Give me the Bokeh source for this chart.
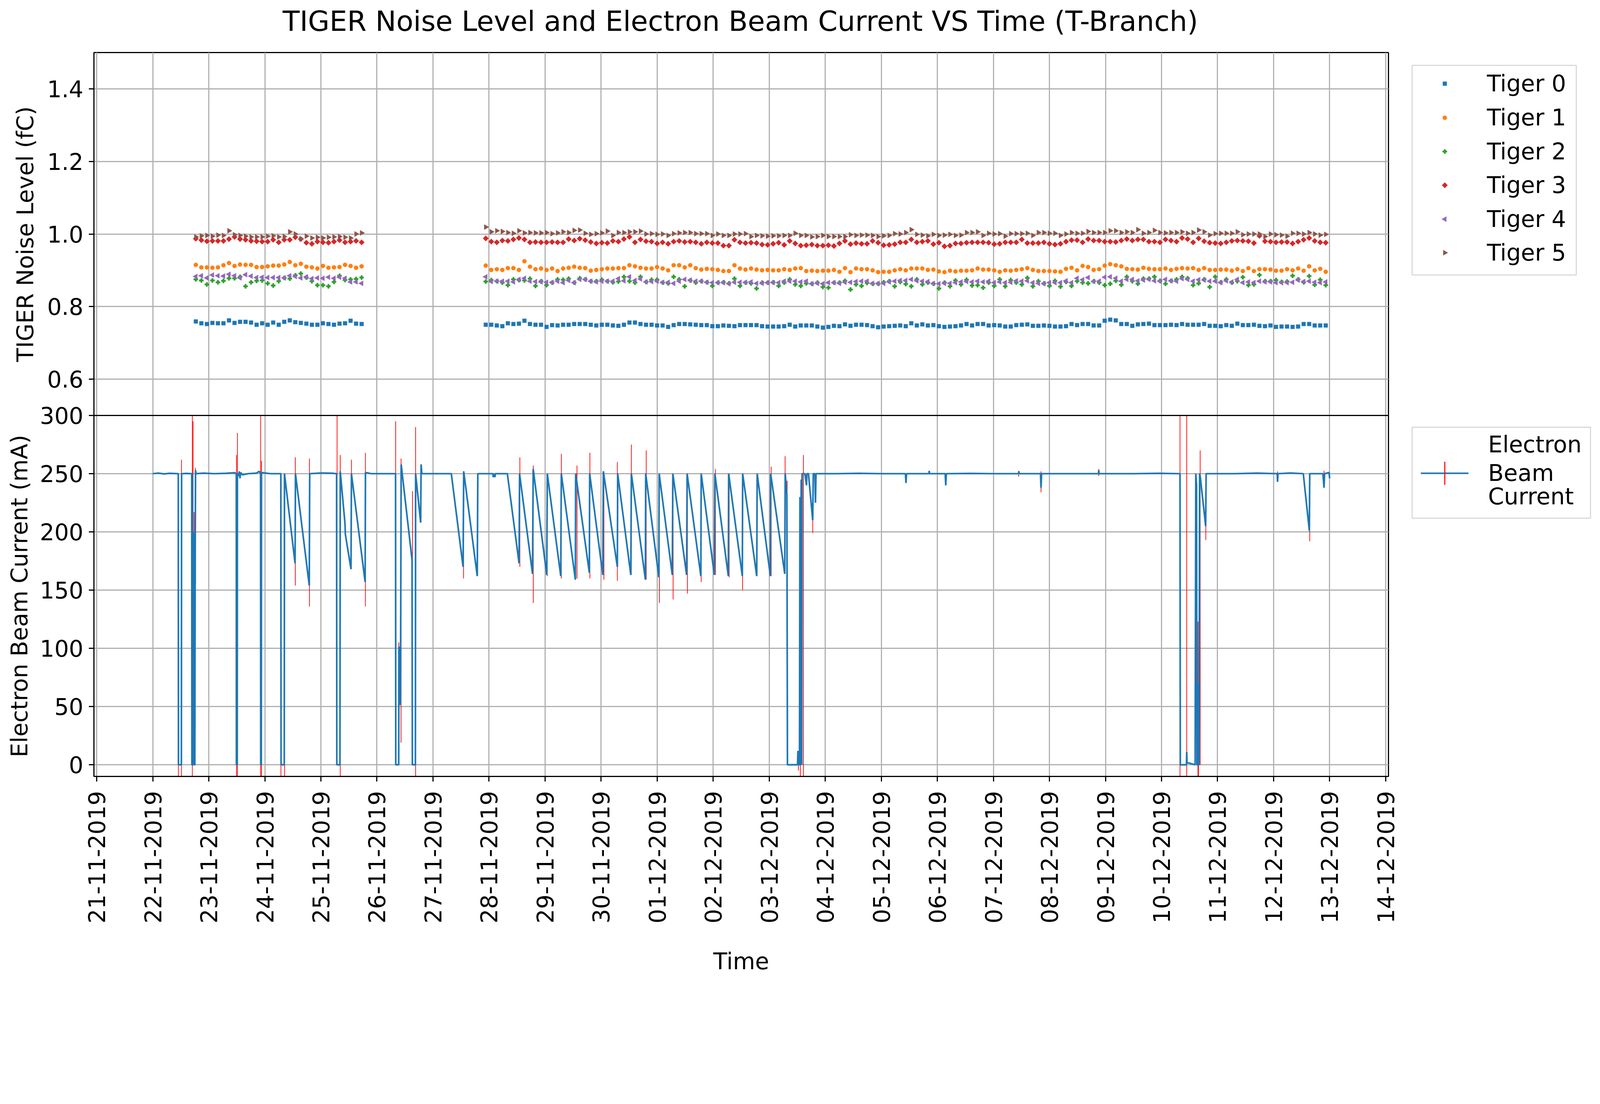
import numpy as np
import pandas as pd
from bokeh.plotting import figure
from bokeh.layouts import column, row
from bokeh.models import FixedTicker, DatetimeTickFormatter, Range1d, Span
from bokeh.core.properties import value
from bokeh.embed import file_html
from bokeh.resources import INLINE

# ---------------- data ----------------
TITLE = "TIGER Noise Level and Electron Beam Current VS Time (T-Branch)"
Y_LABEL_TOP = "TIGER Noise Level (fC)"
Y_LABEL_BOTTOM = "Electron Beam Current (mA)"
X_LABEL = "Time"
BASE_DAY = "2019-11-22 00:00"          # day offsets below are counted from this moment
X_TICK_LABELS = ["21-11-2019", "22-11-2019", "23-11-2019", "24-11-2019", "25-11-2019",
                 "26-11-2019", "27-11-2019", "28-11-2019", "29-11-2019", "30-11-2019",
                 "01-12-2019", "02-12-2019", "03-12-2019", "04-12-2019", "05-12-2019",
                 "06-12-2019", "07-12-2019", "08-12-2019", "09-12-2019", "10-12-2019",
                 "11-12-2019", "12-12-2019", "13-12-2019", "14-12-2019"]
NOISE_Y_TICKS = [0.6, 0.8, 1.0, 1.2, 1.4]
NOISE_Y_TICK_LABELS = ["0.6", "0.8", "1.0", "1.2", "1.4"]
BEAM_Y_TICKS = [0, 50, 100, 150, 200, 250, 300]
BEAM_Y_TICK_LABELS = ["0", "50", "100", "150", "200", "250", "300"]
NOISE_Y_RANGE = (0.5, 1.5)
BEAM_Y_RANGE = (-10, 300)

# noise measurement runs: start time, number of samples, sampling step (minutes)
noise_run_start = ["2019-11-22 18:26", "2019-11-27 22:36"]
noise_run_count = [31, 153]
noise_step_min = 142

tiger_labels = ["Tiger 0", "Tiger 1", "Tiger 2", "Tiger 3", "Tiger 4", "Tiger 5"]
beam_label = ["Electron", "Beam", "Current"]

tiger0 = [0.759, 0.754, 0.752, 0.755, 0.754, 0.754, 0.762, 0.755, 0.758, 0.758,
          0.756, 0.750, 0.754, 0.750, 0.756, 0.750, 0.758, 0.762, 0.757, 0.755,
          0.753, 0.750, 0.750, 0.754, 0.752, 0.750, 0.753, 0.754, 0.761, 0.753, 0.752,
          0.750, 0.750, 0.748, 0.746, 0.754, 0.752, 0.753, 0.761, 0.752, 0.750,
          0.750, 0.744, 0.749, 0.748, 0.750, 0.750, 0.752, 0.752, 0.752, 0.750,
          0.748, 0.750, 0.750, 0.748, 0.747, 0.750, 0.756, 0.756, 0.752, 0.750,
          0.750, 0.748, 0.748, 0.744, 0.749, 0.752, 0.752, 0.751, 0.750, 0.749,
          0.749, 0.746, 0.746, 0.748, 0.747, 0.746, 0.749, 0.749, 0.749, 0.749, 0.746,
          0.745, 0.745, 0.745, 0.746, 0.750, 0.745, 0.748, 0.748, 0.748, 0.745,
          0.742, 0.744, 0.747, 0.746, 0.751, 0.747, 0.750, 0.750, 0.749, 0.746,
          0.743, 0.745, 0.746, 0.747, 0.748, 0.746, 0.754, 0.748, 0.751, 0.748,
          0.749, 0.746, 0.744, 0.745, 0.746, 0.748, 0.752, 0.748, 0.752, 0.752,
          0.748, 0.749, 0.748, 0.745, 0.745, 0.749, 0.750, 0.751, 0.747, 0.747,
          0.748, 0.747, 0.745, 0.745, 0.746, 0.752, 0.749, 0.752, 0.752, 0.748,
          0.748, 0.761, 0.764, 0.762, 0.752, 0.752, 0.747, 0.751, 0.752, 0.753,
          0.749, 0.749, 0.749, 0.750, 0.749, 0.752, 0.750, 0.750, 0.750, 0.752,
          0.747, 0.747, 0.746, 0.749, 0.747, 0.753, 0.749, 0.749, 0.750, 0.747,
          0.746, 0.748, 0.744, 0.745, 0.745, 0.744, 0.745, 0.752, 0.752, 0.748,
          0.748, 0.748]

tiger1 = [0.915, 0.908, 0.908, 0.907, 0.908, 0.914, 0.920, 0.912, 0.916, 0.915,
          0.915, 0.909, 0.909, 0.911, 0.913, 0.913, 0.916, 0.923, 0.914, 0.918,
          0.910, 0.908, 0.905, 0.912, 0.907, 0.908, 0.909, 0.915, 0.912, 0.907, 0.911,
          0.913, 0.901, 0.903, 0.901, 0.906, 0.906, 0.901, 0.925, 0.910, 0.903,
          0.905, 0.901, 0.905, 0.898, 0.905, 0.907, 0.910, 0.907, 0.906, 0.899,
          0.901, 0.903, 0.905, 0.905, 0.906, 0.906, 0.914, 0.911, 0.907, 0.905,
          0.905, 0.909, 0.905, 0.900, 0.914, 0.914, 0.908, 0.914, 0.906, 0.902,
          0.904, 0.903, 0.901, 0.898, 0.898, 0.914, 0.905, 0.902, 0.905, 0.902, 0.900,
          0.901, 0.900, 0.900, 0.903, 0.901, 0.905, 0.906, 0.898, 0.899, 0.898,
          0.899, 0.899, 0.901, 0.896, 0.906, 0.895, 0.905, 0.903, 0.903, 0.900,
          0.895, 0.896, 0.896, 0.900, 0.903, 0.900, 0.905, 0.905, 0.905, 0.901,
          0.902, 0.897, 0.895, 0.899, 0.897, 0.899, 0.899, 0.900, 0.905, 0.902,
          0.902, 0.900, 0.896, 0.900, 0.899, 0.901, 0.903, 0.906, 0.901, 0.898,
          0.898, 0.898, 0.897, 0.896, 0.904, 0.907, 0.900, 0.912, 0.909, 0.901,
          0.903, 0.913, 0.917, 0.914, 0.911, 0.904, 0.903, 0.902, 0.907, 0.904,
          0.903, 0.903, 0.905, 0.901, 0.904, 0.906, 0.905, 0.906, 0.901, 0.906,
          0.901, 0.901, 0.902, 0.902, 0.899, 0.903, 0.898, 0.906, 0.898, 0.903,
          0.903, 0.902, 0.899, 0.899, 0.903, 0.900, 0.905, 0.899, 0.911, 0.900,
          0.904, 0.896]

tiger2 = [0.875, 0.872, 0.861, 0.872, 0.867, 0.871, 0.878, 0.878, 0.882, 0.856,
          0.867, 0.871, 0.872, 0.864, 0.858, 0.870, 0.879, 0.877, 0.886, 0.891,
          0.880, 0.870, 0.859, 0.859, 0.856, 0.868, 0.885, 0.873, 0.875, 0.876, 0.880,
          0.869, 0.873, 0.870, 0.866, 0.859, 0.875, 0.873, 0.872, 0.877, 0.857,
          0.870, 0.859, 0.866, 0.875, 0.874, 0.877, 0.866, 0.878, 0.875, 0.870,
          0.870, 0.874, 0.870, 0.867, 0.869, 0.882, 0.870, 0.866, 0.882, 0.868,
          0.874, 0.874, 0.866, 0.864, 0.882, 0.875, 0.856, 0.872, 0.866, 0.870,
          0.867, 0.857, 0.866, 0.867, 0.864, 0.877, 0.857, 0.866, 0.864, 0.850, 0.866,
          0.866, 0.867, 0.857, 0.866, 0.875, 0.861, 0.857, 0.864, 0.863, 0.866,
          0.854, 0.852, 0.866, 0.866, 0.871, 0.847, 0.861, 0.857, 0.865, 0.863,
          0.863, 0.867, 0.870, 0.856, 0.868, 0.862, 0.856, 0.875, 0.861, 0.866,
          0.863, 0.850, 0.866, 0.856, 0.872, 0.861, 0.874, 0.858, 0.859, 0.852,
          0.866, 0.857, 0.875, 0.856, 0.873, 0.866, 0.861, 0.879, 0.856, 0.870,
          0.864, 0.857, 0.871, 0.855, 0.868, 0.857, 0.870, 0.866, 0.864, 0.870,
          0.866, 0.859, 0.863, 0.871, 0.860, 0.882, 0.870, 0.863, 0.877, 0.877,
          0.882, 0.871, 0.863, 0.871, 0.875, 0.882, 0.878, 0.859, 0.864, 0.875,
          0.854, 0.882, 0.867, 0.875, 0.866, 0.870, 0.881, 0.859, 0.861, 0.887,
          0.870, 0.870, 0.873, 0.868, 0.869, 0.885, 0.875, 0.867, 0.884, 0.860,
          0.874, 0.859]

tiger3 = [0.987, 0.983, 0.980, 0.981, 0.981, 0.981, 0.986, 0.992, 0.986, 0.984,
          0.981, 0.980, 0.979, 0.979, 0.984, 0.977, 0.984, 0.984, 0.991, 0.986,
          0.976, 0.973, 0.979, 0.977, 0.976, 0.979, 0.983, 0.977, 0.979, 0.981, 0.977,
          0.988, 0.979, 0.977, 0.982, 0.981, 0.985, 0.989, 0.985, 0.977, 0.978,
          0.977, 0.977, 0.978, 0.977, 0.977, 0.986, 0.982, 0.987, 0.983, 0.978,
          0.974, 0.976, 0.975, 0.981, 0.979, 0.986, 0.992, 0.977, 0.985, 0.980,
          0.979, 0.974, 0.977, 0.973, 0.979, 0.981, 0.978, 0.979, 0.977, 0.973,
          0.977, 0.975, 0.975, 0.968, 0.968, 0.984, 0.977, 0.975, 0.976, 0.975, 0.971,
          0.970, 0.973, 0.976, 0.970, 0.981, 0.974, 0.968, 0.969, 0.971, 0.968,
          0.968, 0.969, 0.967, 0.974, 0.981, 0.972, 0.975, 0.973, 0.973, 0.981,
          0.976, 0.969, 0.970, 0.972, 0.977, 0.977, 0.985, 0.977, 0.979, 0.981,
          0.972, 0.976, 0.966, 0.968, 0.974, 0.974, 0.976, 0.977, 0.977, 0.977,
          0.976, 0.972, 0.973, 0.977, 0.977, 0.977, 0.985, 0.975, 0.975, 0.975,
          0.977, 0.973, 0.971, 0.973, 0.979, 0.983, 0.983, 0.977, 0.986, 0.982,
          0.982, 0.979, 0.979, 0.978, 0.982, 0.986, 0.982, 0.985, 0.985, 0.979,
          0.979, 0.977, 0.985, 0.982, 0.979, 0.989, 0.986, 0.977, 0.988, 0.980,
          0.976, 0.975, 0.974, 0.977, 0.981, 0.982, 0.981, 0.980, 0.975, 0.995,
          0.980, 0.979, 0.977, 0.978, 0.978, 0.974, 0.979, 0.984, 0.989, 0.981,
          0.977, 0.976]

tiger4 = [0.883, 0.885, 0.879, 0.887, 0.885, 0.884, 0.889, 0.885, 0.879, 0.888,
          0.884, 0.880, 0.881, 0.880, 0.880, 0.880, 0.879, 0.885, 0.883, 0.879,
          0.882, 0.877, 0.879, 0.878, 0.881, 0.878, 0.881, 0.878, 0.868, 0.868, 0.864,
          0.882, 0.869, 0.870, 0.870, 0.870, 0.868, 0.875, 0.878, 0.870, 0.869,
          0.868, 0.867, 0.867, 0.870, 0.866, 0.872, 0.866, 0.875, 0.875, 0.870,
          0.868, 0.870, 0.870, 0.870, 0.877, 0.871, 0.882, 0.872, 0.876, 0.868,
          0.869, 0.870, 0.867, 0.867, 0.864, 0.870, 0.875, 0.873, 0.870, 0.870,
          0.867, 0.866, 0.866, 0.866, 0.863, 0.867, 0.867, 0.867, 0.868, 0.864, 0.864,
          0.866, 0.866, 0.866, 0.870, 0.870, 0.870, 0.868, 0.870, 0.863, 0.864,
          0.863, 0.866, 0.866, 0.864, 0.867, 0.867, 0.869, 0.870, 0.870, 0.864,
          0.864, 0.864, 0.868, 0.870, 0.872, 0.872, 0.875, 0.871, 0.870, 0.869,
          0.864, 0.863, 0.864, 0.864, 0.866, 0.868, 0.869, 0.868, 0.870, 0.868,
          0.870, 0.866, 0.868, 0.866, 0.867, 0.871, 0.870, 0.871, 0.866, 0.864,
          0.863, 0.866, 0.866, 0.866, 0.871, 0.866, 0.878, 0.874, 0.880, 0.869,
          0.870, 0.881, 0.882, 0.878, 0.870, 0.875, 0.875, 0.871, 0.873, 0.875,
          0.871, 0.870, 0.875, 0.871, 0.870, 0.877, 0.875, 0.870, 0.874, 0.873,
          0.870, 0.870, 0.866, 0.871, 0.868, 0.875, 0.866, 0.868, 0.866, 0.870,
          0.868, 0.868, 0.866, 0.866, 0.866, 0.867, 0.873, 0.869, 0.870, 0.867,
          0.866, 0.868]

tiger5 = [0.992, 0.995, 0.996, 0.994, 0.997, 0.996, 1.009, 0.998, 0.996, 0.994,
          0.992, 0.992, 0.992, 0.994, 0.995, 0.992, 0.993, 1.006, 1.000, 0.987,
          0.994, 0.989, 0.991, 0.989, 0.991, 0.992, 0.993, 0.991, 0.989, 1.000, 1.003,
          1.019, 1.006, 1.009, 1.007, 1.004, 1.002, 1.009, 1.003, 1.004, 1.003,
          1.003, 1.004, 1.001, 1.003, 1.006, 1.004, 1.010, 1.011, 1.002, 0.999,
          1.001, 1.003, 1.008, 0.996, 1.004, 1.004, 1.006, 1.006, 1.008, 1.000,
          1.001, 0.999, 1.000, 0.996, 1.001, 1.003, 1.004, 1.004, 1.001, 1.001,
          1.001, 0.996, 1.000, 0.996, 0.996, 1.000, 1.000, 1.001, 0.993, 0.996, 0.995,
          0.994, 0.995, 0.995, 0.996, 0.996, 1.002, 0.996, 0.996, 0.992, 0.993,
          0.996, 0.993, 0.993, 0.993, 0.993, 0.998, 0.996, 0.997, 0.997, 0.996,
          0.993, 0.995, 0.996, 1.001, 1.000, 1.004, 1.012, 0.999, 0.997, 0.995,
          0.999, 0.996, 0.997, 0.999, 0.996, 0.997, 1.004, 1.004, 1.006, 0.996,
          1.002, 1.000, 1.001, 0.994, 1.001, 1.001, 1.001, 1.002, 0.996, 1.004,
          1.004, 1.002, 1.002, 0.996, 1.000, 1.004, 1.002, 1.002, 1.007, 1.004,
          1.004, 1.004, 1.009, 1.009, 1.004, 1.006, 1.004, 1.012, 1.002, 1.004,
          1.010, 1.004, 1.003, 1.004, 1.004, 1.006, 1.002, 1.004, 1.011, 1.006,
          0.997, 1.001, 1.002, 1.002, 1.002, 1.006, 0.998, 1.000, 1.000, 1.000,
          0.993, 1.000, 0.998, 0.997, 0.994, 1.002, 1.002, 1.000, 1.004, 1.000,
          0.997, 0.999]

# electron beam current: vertices (day offset from BASE_DAY, mA)
beam_day = [0.000, 0.100, 0.200, 0.300, 0.455, 0.458, 0.510, 0.514, 0.600, 0.695,
            0.698, 0.704, 0.707, 0.711, 0.722, 0.726, 0.738, 0.742, 0.750, 0.757, 0.763, 0.770,
            0.900, 1.100, 1.300, 1.460, 1.490, 1.492, 1.507, 1.510, 1.530, 1.545, 1.555, 1.570,
            1.600, 1.700, 1.850, 1.900, 1.923, 1.926, 1.936, 1.940, 2.100, 2.285, 2.289, 2.346,
            2.350, 2.539, 2.546, 2.792, 2.800, 3.000, 3.200, 3.280, 3.284, 3.340, 3.345, 3.430,
            3.436, 3.537, 3.545, 3.789, 3.795, 3.900, 4.100, 4.332, 4.336, 4.388, 4.392, 4.402,
            4.408, 4.420, 4.432, 4.626, 4.632, 4.686, 4.690, 4.780, 4.788, 4.800, 5.000, 5.327,
            5.537, 5.548, 5.790, 5.800, 6.070, 6.075, 6.085, 6.105, 6.115, 6.327, 6.536, 6.545,
            6.776, 6.788, 7.030, 7.040, 7.280, 7.290, 7.540, 7.546, 7.790, 7.796, 8.030, 8.040,
            8.290, 8.296, 8.530, 8.540, 8.790, 8.796, 9.030, 9.036, 9.270, 9.280, 9.526, 9.535,
            9.780, 9.786, 10.020, 10.030, 10.270, 10.276, 10.520, 10.526, 10.777, 10.785,
            11.020, 11.026, 11.277, 11.285, 11.315, 11.325, 11.505, 11.512, 11.518, 11.540,
            11.548, 11.554, 11.563, 11.570, 11.575, 11.580, 11.586, 11.610, 11.637, 11.665,
            11.672, 11.700, 11.776, 11.786, 11.815, 11.825, 11.835,
            12.200, 12.600, 13.000, 13.430, 13.440, 13.450, 13.850, 13.855, 13.860, 14.140,
            14.150, 14.160, 14.600, 15.000, 15.450, 15.455, 15.460, 15.840, 15.850, 15.860,
            16.400, 16.875, 16.880, 16.885, 17.500, 17.950, 18.330, 18.335, 18.445, 18.450,
            18.455, 18.600, 18.612, 18.625, 18.632, 18.645, 18.650, 18.658, 18.670, 18.680,
            18.690, 18.788, 18.796, 19.300, 19.700, 20.065, 20.070, 20.078, 20.300, 20.530,
            20.638, 20.645, 20.880, 20.900, 20.910, 20.990, 21.000]
beam_ma = [250, 250.5, 249.8, 250.3, 250, 0, 0, 250, 250.2, 250,
           0, 0, 250, 0, 0, 200, 182, 0, 0, 185, 253, 250,
           250.5, 250, 250.3, 250.8, 250, 0, 0, 250, 248, 252, 246, 251,
           249, 250, 250.5, 252, 250, 0, 0, 251, 250, 250, 0, 0,
           250, 173, 250, 154, 250, 250.6, 250.4, 250, 0, 0, 252, 207,
           198, 168, 250, 157, 251, 250, 250, 250, 0, 0, 101, 101,
           52, 52, 258, 176, 0, 0, 250, 208, 258, 250, 250, 250,
           170, 252, 162, 250, 250, 247, 250, 247, 250, 250, 173, 250,
           164, 254, 163, 250, 162, 250, 159, 250, 165, 250, 163, 252,
           170, 250, 163, 250, 159, 250, 161, 250, 163, 250, 163, 250,
           162, 250, 163, 250, 162, 250, 162, 250, 162, 250,
           162, 250, 164, 250, 232, 0, 0, 12, 0, 0,
           230, 0, 0, 245, 50, 0, 250, 250, 250, 240,
           250, 250, 210, 250, 250, 225, 250,
           250, 250.3, 250, 250, 242, 250, 250, 252.5, 250, 250,
           240, 250, 250.2, 250, 250, 252, 250, 250, 238, 250,
           250, 250, 253, 250, 250, 250.3, 250, 0, 0, 11,
           2, 0, 250, 240, 0, 0, 70, 0, 0, 250,
           248, 205, 250, 250, 250.5, 250, 243, 250, 250.6, 250,
           201, 250, 250, 238, 250, 251, 246]

# beam current error bars: (day offset, lower mA, upper mA); 300 = runs off the top of the chart
err_day = [0.457, 0.512, 0.706, 0.719, 0.736, 0.762, 1.494, 1.510, 1.925, 1.940,
           2.287, 2.352, 2.543, 2.796, 3.288, 3.345, 3.545, 3.794, 4.334, 4.390,
           4.430, 4.634, 4.690, 5.545, 6.550, 6.790, 7.040, 7.290, 7.570, 7.800,
           8.050, 8.290, 8.540, 8.805, 9.040, 9.285, 9.540, 9.785, 10.040, 10.285,
           10.525, 11.035, 11.283, 11.320, 11.520, 11.555, 11.610, 11.776, 15.450, 15.850,
           16.880, 18.330, 18.450, 18.650, 18.660, 18.690, 18.790, 20.070, 20.645, 20.900]
err_lo = [-10, -10, -10, 170, 155, 155, -10, -10, -10, -10,
          -10, -10, 154, 136, 0, -10, 200, 136, 0, 37,
          19, 170, -10, 160, 170, 139, 162, 160, 160, 160,
          159, 158, 163, 159, 139, 142, 147, 157, 163, 161,
          150, 162, 164, 232, -5, -10, -10, 199, 247.5, 234,
          248, -10, -10, -10, -10, 0, 193, 243, 192, 238]
err_hi = [0, 262, 300, 295, 217, 255, 266, 285, 300, 261,
          0, 0, 264, 263, 300, 266, 262, 268, 295, 105,
          263, 235, 290, 252, 264, 257, 250, 267, 257, 268,
          252, 260, 275, 270, 250, 250, 250, 250, 254, 250,
          250, 256, 265, 244, 12, 50, 266, 210, 252.5, 252,
          254, 300, 300, 123, 20, 270, 205, 252, 201, 252.5]

# ---------------- layout (reference picture pixels -> page CSS px) ----------------
K = 4600 / 4096                 # picture pixels per CSS pixel


def css(d):
    return d / K


def body(d):                    # picture position -> page position (CSS px)
    return d / K


FONT = "DejaVu Sans"
FS = f"{css(65.6):.1f}px"
TITLE_FS = f"{css(80.2):.1f}px"
LW = css(3.28)
TICK = int(round(css(14.3)))

FRAME_LEFT = int(round(body(267)))
MAIN_LB = 139
YLAB_W = FRAME_LEFT - MAIN_LB
TITLE_H = int(round(body(151))) - 3
MAIN_TB = 3
MAIN_RB = 40
MAIN_BB = 520
FRAME_W = int(round(body(3989) - FRAME_LEFT))
TOP_H = int(round(body(1194) - (TITLE_H + MAIN_TB)))
BOT_H = int(round(body(2232) - (TITLE_H + MAIN_TB + TOP_H)))
FRAME_H = TOP_H + BOT_H
TOTAL_W = 4096 - 16
LEG_X0 = FRAME_LEFT + FRAME_W + MAIN_RB
LEG_W = TOTAL_W - LEG_X0
P_H = MAIN_TB + FRAME_H + MAIN_BB

tab = ["#1f77b4", "#ff7f0e", "#2ca02c", "#d62728", "#9467bd", "#8c564b"]
# marker, size, angle  (like matplotlib s, o, P, D, <, >)
marker_spec = [("square", css(11.5), 0.0), ("circle", css(12.3), 0.0),
               ("plus", css(12.6), 0.0), ("square", css(11.5), np.pi / 4),
               ("triangle", css(15.5), np.pi / 2), ("triangle", css(15.5), -np.pi / 2)]

# ---------------- helpers ----------------
base = pd.Timestamp(BASE_DAY)
MS_DAY = 86400000.0
EPOCH = pd.Timestamp("1970-01-01")
base_ms = (base - EPOCH) / pd.Timedelta(milliseconds=1)


def day_to_dt(days):
    return base + pd.to_timedelta(np.asarray(days, dtype=float), unit="D")


noise_t = np.concatenate([
    pd.date_range(s, periods=n, freq=f"{noise_step_min}min").values
    for s, n in zip(noise_run_start, noise_run_count)])
beam_t = day_to_dt(beam_day)
err_t = day_to_dt(err_day)

tick_ms = [(pd.to_datetime(s, format="%d-%m-%Y") - EPOCH) / pd.Timedelta(milliseconds=1)
           for s in X_TICK_LABELS]
xr = Range1d(start=base_ms - 1.05 * MS_DAY, end=base_ms + 22.05 * MS_DAY)

# the two stacked charts share one frame: beam current in the lower BOT_H pixels,
# noise level in the upper TOP_H pixels
b_lo, b_hi = BEAM_Y_RANGE
n_lo, n_hi = NOISE_Y_RANGE
beam_per_px = (b_hi - b_lo) / BOT_H
noise_per_px = (n_hi - n_lo) / TOP_H
beam_range = Range1d(b_lo, b_hi + TOP_H * beam_per_px)
noise_range = Range1d(n_lo - BOT_H * noise_per_px, n_hi)


def noise_to_beam(v):
    return b_hi + (v - n_lo) / noise_per_px * beam_per_px


left_ticks = [float(t) for t in BEAM_Y_TICKS] + [float(noise_to_beam(v)) for v in NOISE_Y_TICKS]
left_labels = BEAM_Y_TICK_LABELS + NOISE_Y_TICK_LABELS


def blank_fig(w, h, top=0, bottom=0):
    # plain panel; data units = CSS pixels measured from the panel's top-left corner
    f = figure(width=w, height=h, x_range=Range1d(0, w), y_range=Range1d(h - bottom, top),
               min_border_left=0, min_border_right=0, min_border_top=top,
               min_border_bottom=bottom, x_axis_location=None, y_axis_location=None,
               output_backend="svg", toolbar_location=None)
    f.grid.visible = False
    f.outline_line_color = None
    f.background_fill_color = "white"
    f.border_fill_color = "white"
    return f


# ---------------- main chart ----------------
p = figure(x_axis_type="datetime", x_range=xr, y_range=beam_range,
           frame_width=FRAME_W, frame_height=FRAME_H,
           min_border_left=MAIN_LB, min_border_right=MAIN_RB, min_border_top=MAIN_TB,
           min_border_bottom=MAIN_BB, output_backend="svg", toolbar_location=None)
p.extra_y_ranges = {"noise": noise_range}
p.outline_line_color = "black"
p.outline_line_width = LW
p.background_fill_color = "white"
p.border_fill_color = "white"

p.xaxis.ticker = FixedTicker(ticks=tick_ms)
fmt = "%d-%m-%Y"
p.xaxis.formatter = DatetimeTickFormatter(
    microseconds=fmt, milliseconds=fmt, seconds=fmt, minsec=fmt, minutes=fmt,
    hourmin=fmt, hours=fmt, days=fmt, months=fmt, years=fmt)
p.xaxis.major_label_orientation = np.pi / 2
p.xaxis.axis_label = X_LABEL
p.yaxis.ticker = FixedTicker(ticks=left_ticks)
p.yaxis.major_label_overrides = dict(zip(left_ticks, left_labels))
p.xgrid.ticker = FixedTicker(ticks=tick_ms)
p.ygrid.ticker = FixedTicker(ticks=left_ticks)
for g in p.grid:
    g.grid_line_color = "#b0b0b0"
    g.grid_line_width = LW
for ax in p.axis:
    ax.axis_line_color = "black"
    ax.axis_line_width = LW
    ax.major_tick_line_color = "black"
    ax.major_tick_line_width = LW
    ax.major_tick_out = TICK
    ax.major_tick_in = 0
    ax.minor_tick_line_color = None
    ax.major_label_text_font = FONT
    ax.major_label_text_font_size = FS
    ax.major_label_text_color = "black"
    ax.axis_label_text_font = FONT
    ax.axis_label_text_font_size = FS
    ax.axis_label_text_font_style = "normal"
    ax.axis_label_text_color = "black"
p.yaxis.major_label_standoff = 14
p.xaxis.major_label_standoff = int(round(css(41))) - TICK
p.xaxis.axis_label_standoff = 60

# beam current with its error bars
p.segment(x0=err_t, y0=err_lo, x1=err_t, y1=err_hi, line_color="red", line_width=css(2))
p.line(x=beam_t, y=beam_ma, line_color="#1f77b4", line_width=css(4.7))

# noise levels
series = [tiger0, tiger1, tiger2, tiger3, tiger4, tiger5]
for vals, col, (mk, sz, ang) in zip(series, tab, marker_spec):
    p.scatter(x=noise_t, y=vals, y_range_name="noise", marker=mk, size=sz, angle=ang,
              fill_color=col, line_color=col, line_width=0.4)

# border between the two charts
p.add_layout(Span(location=b_hi, dimension="width", line_color="black", line_width=LW))

# ---------------- title ----------------
tf = blank_fig(TOTAL_W, TITLE_H)
tf.text(x=[body(2128)], y=[body(61)], text=[TITLE], text_font=value(FONT),
        text_font_size=TITLE_FS, text_color="black", text_align="center",
        text_baseline="middle")

# ---------------- y axis titles ----------------
yf = blank_fig(YLAB_W, P_H, top=MAIN_TB, bottom=MAIN_BB)
yf.text(x=[body(72.4), body(55.5)],
        y=[body((151 + 1194) / 2) - TITLE_H, body((1194 + 2232) / 2) - TITLE_H],
        text=[Y_LABEL_TOP, Y_LABEL_BOTTOM], angle=np.pi / 2, text_font=value(FONT),
        text_font_size=FS, text_color="black", text_align="center", text_baseline="middle")

# ---------------- legends ----------------
lf = blank_fig(LEG_W, P_H, top=MAIN_TB, bottom=MAIN_BB)


def lx(d):
    return body(d) - LEG_X0


def ly(d):
    return body(d) - TITLE_H


def legend_box(x0, x1, y0, y1):
    lf.quad(left=[lx(x0)], right=[lx(x1)], top=[ly(y0)], bottom=[ly(y1)],
            fill_color="white", fill_alpha=0.8, line_color="#d6d6d6", line_width=css(3))


legend_box(4057, 4529, 187.5, 790)
row_y = [ly(v) for v in (240, 338, 435, 532, 629.5, 726)]
for yy, col, (mk, sz, ang) in zip(row_y, tab, marker_spec):
    lf.scatter(x=[lx(4151)], y=[yy], marker=mk, size=sz, angle=ang,
               fill_color=col, line_color=col, line_width=0.4)
lf.text(x=[lx(4272)] * 6, y=row_y, text=tiger_labels, text_font=value(FONT),
        text_font_size=FS, text_color="black", text_baseline="middle", text_align="left")

legend_box(4057, 4570, 1227.7, 1489)
lf.line(x=[lx(4082), lx(4219)], y=[ly(1360), ly(1360)], line_color="#1f77b4",
        line_width=css(4.7))
lf.segment(x0=[lx(4151)], y0=[ly(1327)], x1=[lx(4151)], y1=[ly(1393)],
           line_color="red", line_width=css(3))
lf.text(x=[lx(4275.5)] * 3, y=[ly(v) for v in (1278, 1360, 1427)], text=beam_label,
        text_font=value(FONT), text_font_size=FS, text_color="black",
        text_baseline="middle", text_align="left")

layout = column(tf, row(yf, p, lf, spacing=0), spacing=0)
open("out.html", "w").write(file_html(layout, INLINE))
